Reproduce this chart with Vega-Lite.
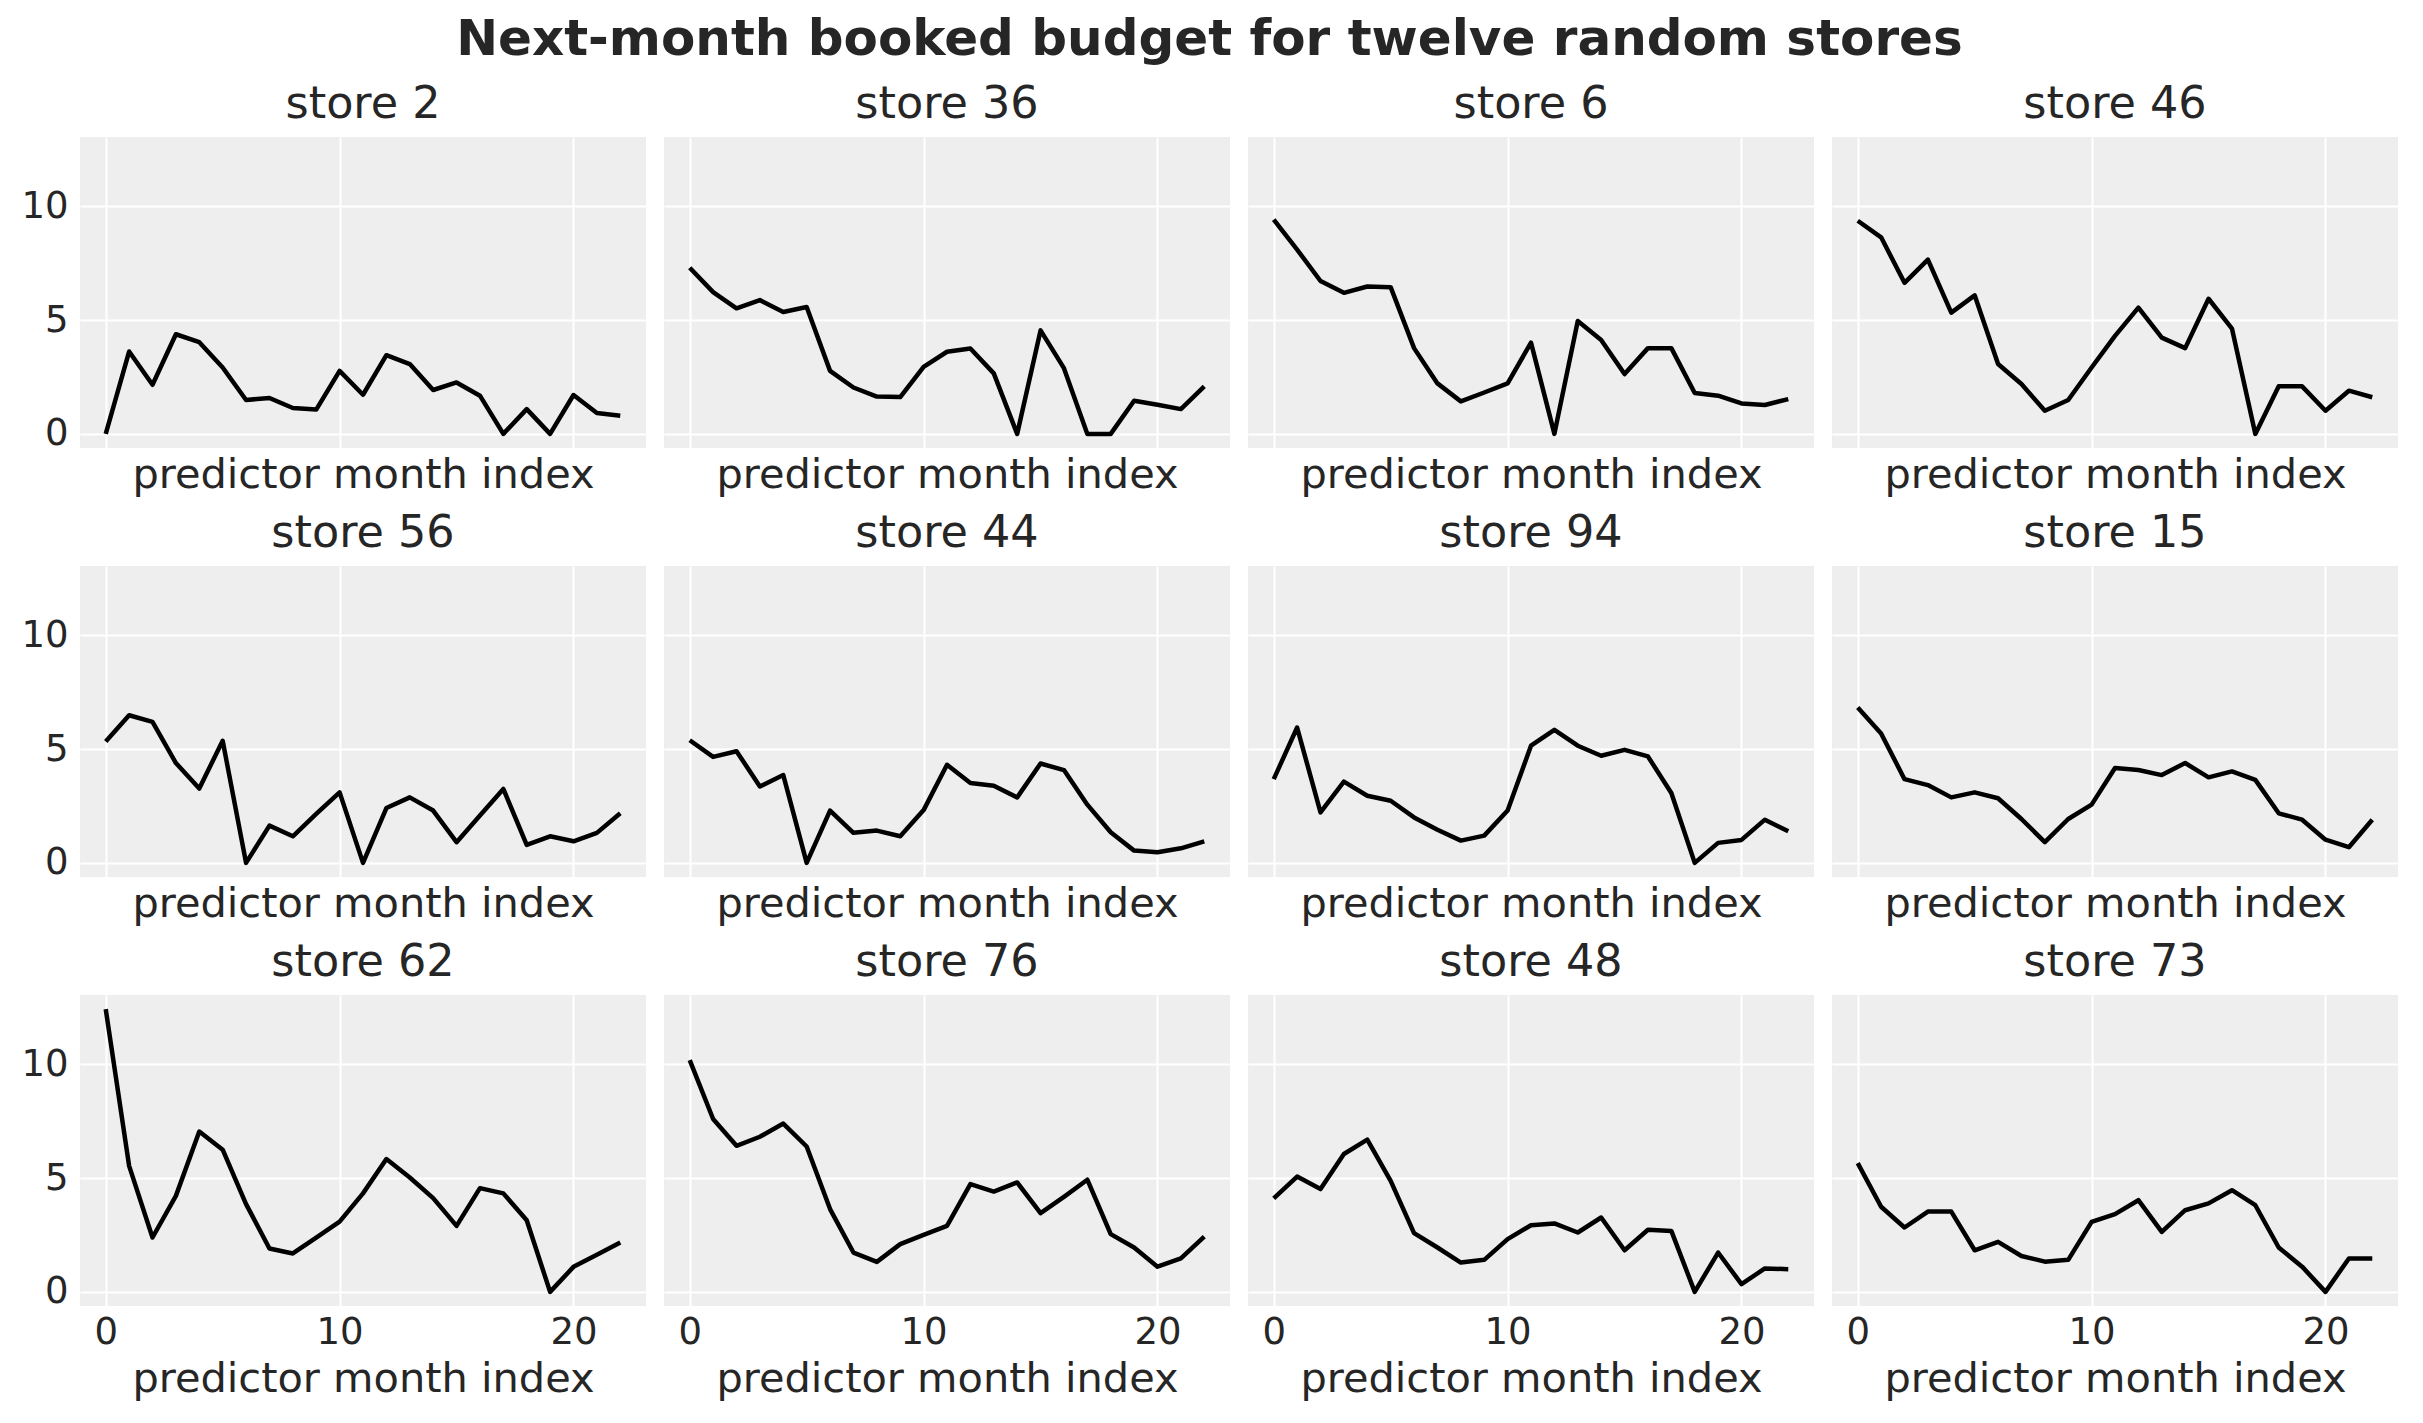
{
  "$schema": "https://vega.github.io/schema/vega-lite/v6.json",
  "padding": {"left": 20, "top": 14, "right": 10, "bottom": 10},
  "background": "white",
  "title": {"text": "Next-month booked budget for twelve random stores", "fontSize": 50, "fontWeight": "bold", "anchor": "middle", "color": "#262626", "offset": 17},
  "data": {"values": [
{"store":"store 2","row":1,"month":0,"budget":0},{"store":"store 2","row":1,"month":1,"budget":3.62},{"store":"store 2","row":1,"month":2,"budget":2.16},{"store":"store 2","row":1,"month":3,"budget":4.38},{"store":"store 2","row":1,"month":4,"budget":4.03},{"store":"store 2","row":1,"month":5,"budget":2.92},{"store":"store 2","row":1,"month":6,"budget":1.49},{"store":"store 2","row":1,"month":7,"budget":1.58},{"store":"store 2","row":1,"month":8,"budget":1.14},{"store":"store 2","row":1,"month":9,"budget":1.07},{"store":"store 2","row":1,"month":10,"budget":2.77},{"store":"store 2","row":1,"month":11,"budget":1.72},{"store":"store 2","row":1,"month":12,"budget":3.46},{"store":"store 2","row":1,"month":13,"budget":3.07},{"store":"store 2","row":1,"month":14,"budget":1.93},{"store":"store 2","row":1,"month":15,"budget":2.26},{"store":"store 2","row":1,"month":16,"budget":1.68},{"store":"store 2","row":1,"month":17,"budget":0},{"store":"store 2","row":1,"month":18,"budget":1.09},{"store":"store 2","row":1,"month":19,"budget":0},{"store":"store 2","row":1,"month":20,"budget":1.71},{"store":"store 2","row":1,"month":21,"budget":0.92},{"store":"store 2","row":1,"month":22,"budget":0.80},
{"store":"store 36","row":1,"month":0,"budget":7.30},{"store":"store 36","row":1,"month":1,"budget":6.23},{"store":"store 36","row":1,"month":2,"budget":5.52},{"store":"store 36","row":1,"month":3,"budget":5.88},{"store":"store 36","row":1,"month":4,"budget":5.36},{"store":"store 36","row":1,"month":5,"budget":5.58},{"store":"store 36","row":1,"month":6,"budget":2.77},{"store":"store 36","row":1,"month":7,"budget":2.04},{"store":"store 36","row":1,"month":8,"budget":1.64},{"store":"store 36","row":1,"month":9,"budget":1.62},{"store":"store 36","row":1,"month":10,"budget":2.95},{"store":"store 36","row":1,"month":11,"budget":3.61},{"store":"store 36","row":1,"month":12,"budget":3.75},{"store":"store 36","row":1,"month":13,"budget":2.66},{"store":"store 36","row":1,"month":14,"budget":0},{"store":"store 36","row":1,"month":15,"budget":4.55},{"store":"store 36","row":1,"month":16,"budget":2.89},{"store":"store 36","row":1,"month":17,"budget":0},{"store":"store 36","row":1,"month":18,"budget":0},{"store":"store 36","row":1,"month":19,"budget":1.46},{"store":"store 36","row":1,"month":20,"budget":1.28},{"store":"store 36","row":1,"month":21,"budget":1.09},{"store":"store 36","row":1,"month":22,"budget":2.09},
{"store":"store 6","row":1,"month":0,"budget":9.42},{"store":"store 6","row":1,"month":1,"budget":8.10},{"store":"store 6","row":1,"month":2,"budget":6.72},{"store":"store 6","row":1,"month":3,"budget":6.20},{"store":"store 6","row":1,"month":4,"budget":6.48},{"store":"store 6","row":1,"month":5,"budget":6.45},{"store":"store 6","row":1,"month":6,"budget":3.77},{"store":"store 6","row":1,"month":7,"budget":2.22},{"store":"store 6","row":1,"month":8,"budget":1.43},{"store":"store 6","row":1,"month":9,"budget":1.82},{"store":"store 6","row":1,"month":10,"budget":2.22},{"store":"store 6","row":1,"month":11,"budget":4.01},{"store":"store 6","row":1,"month":12,"budget":0},{"store":"store 6","row":1,"month":13,"budget":4.96},{"store":"store 6","row":1,"month":14,"budget":4.13},{"store":"store 6","row":1,"month":15,"budget":2.63},{"store":"store 6","row":1,"month":16,"budget":3.77},{"store":"store 6","row":1,"month":17,"budget":3.77},{"store":"store 6","row":1,"month":18,"budget":1.80},{"store":"store 6","row":1,"month":19,"budget":1.68},{"store":"store 6","row":1,"month":20,"budget":1.34},{"store":"store 6","row":1,"month":21,"budget":1.27},{"store":"store 6","row":1,"month":22,"budget":1.53},
{"store":"store 46","row":1,"month":0,"budget":9.37},{"store":"store 46","row":1,"month":1,"budget":8.64},{"store":"store 46","row":1,"month":2,"budget":6.64},{"store":"store 46","row":1,"month":3,"budget":7.66},{"store":"store 46","row":1,"month":4,"budget":5.33},{"store":"store 46","row":1,"month":5,"budget":6.09},{"store":"store 46","row":1,"month":6,"budget":3.07},{"store":"store 46","row":1,"month":7,"budget":2.19},{"store":"store 46","row":1,"month":8,"budget":1.02},{"store":"store 46","row":1,"month":9,"budget":1.49},{"store":"store 46","row":1,"month":10,"budget":2.92},{"store":"store 46","row":1,"month":11,"budget":4.31},{"store":"store 46","row":1,"month":12,"budget":5.55},{"store":"store 46","row":1,"month":13,"budget":4.23},{"store":"store 46","row":1,"month":14,"budget":3.77},{"store":"store 46","row":1,"month":15,"budget":5.94},{"store":"store 46","row":1,"month":16,"budget":4.63},{"store":"store 46","row":1,"month":17,"budget":0},{"store":"store 46","row":1,"month":18,"budget":2.09},{"store":"store 46","row":1,"month":19,"budget":2.09},{"store":"store 46","row":1,"month":20,"budget":1.02},{"store":"store 46","row":1,"month":21,"budget":1.90},{"store":"store 46","row":1,"month":22,"budget":1.61},
{"store":"store 56","row":2,"month":0,"budget":5.34},{"store":"store 56","row":2,"month":1,"budget":6.49},{"store":"store 56","row":2,"month":2,"budget":6.20},{"store":"store 56","row":2,"month":3,"budget":4.39},{"store":"store 56","row":2,"month":4,"budget":3.27},{"store":"store 56","row":2,"month":5,"budget":5.37},{"store":"store 56","row":2,"month":6,"budget":0},{"store":"store 56","row":2,"month":7,"budget":1.64},{"store":"store 56","row":2,"month":8,"budget":1.17},{"store":"store 56","row":2,"month":9,"budget":2.15},{"store":"store 56","row":2,"month":10,"budget":3.10},{"store":"store 56","row":2,"month":11,"budget":0},{"store":"store 56","row":2,"month":12,"budget":2.41},{"store":"store 56","row":2,"month":13,"budget":2.88},{"store":"store 56","row":2,"month":14,"budget":2.30},{"store":"store 56","row":2,"month":15,"budget":0.91},{"store":"store 56","row":2,"month":16,"budget":2.08},{"store":"store 56","row":2,"month":17,"budget":3.25},{"store":"store 56","row":2,"month":18,"budget":0.79},{"store":"store 56","row":2,"month":19,"budget":1.17},{"store":"store 56","row":2,"month":20,"budget":0.95},{"store":"store 56","row":2,"month":21,"budget":1.32},{"store":"store 56","row":2,"month":22,"budget":2.18},
{"store":"store 44","row":2,"month":0,"budget":5.39},{"store":"store 44","row":2,"month":1,"budget":4.66},{"store":"store 44","row":2,"month":2,"budget":4.91},{"store":"store 44","row":2,"month":3,"budget":3.36},{"store":"store 44","row":2,"month":4,"budget":3.86},{"store":"store 44","row":2,"month":5,"budget":0},{"store":"store 44","row":2,"month":6,"budget":2.30},{"store":"store 44","row":2,"month":7,"budget":1.32},{"store":"store 44","row":2,"month":8,"budget":1.42},{"store":"store 44","row":2,"month":9,"budget":1.17},{"store":"store 44","row":2,"month":10,"budget":2.32},{"store":"store 44","row":2,"month":11,"budget":4.31},{"store":"store 44","row":2,"month":12,"budget":3.51},{"store":"store 44","row":2,"month":13,"budget":3.39},{"store":"store 44","row":2,"month":14,"budget":2.88},{"store":"store 44","row":2,"month":15,"budget":4.37},{"store":"store 44","row":2,"month":16,"budget":4.08},{"store":"store 44","row":2,"month":17,"budget":2.56},{"store":"store 44","row":2,"month":18,"budget":1.35},{"store":"store 44","row":2,"month":19,"budget":0.54},{"store":"store 44","row":2,"month":20,"budget":0.47},{"store":"store 44","row":2,"month":21,"budget":0.64},{"store":"store 44","row":2,"month":22,"budget":0.95},
{"store":"store 94","row":2,"month":0,"budget":3.68},{"store":"store 94","row":2,"month":1,"budget":5.95},{"store":"store 94","row":2,"month":2,"budget":2.22},{"store":"store 94","row":2,"month":3,"budget":3.57},{"store":"store 94","row":2,"month":4,"budget":2.95},{"store":"store 94","row":2,"month":5,"budget":2.73},{"store":"store 94","row":2,"month":6,"budget":2.00},{"store":"store 94","row":2,"month":7,"budget":1.46},{"store":"store 94","row":2,"month":8,"budget":0.98},{"store":"store 94","row":2,"month":9,"budget":1.20},{"store":"store 94","row":2,"month":10,"budget":2.30},{"store":"store 94","row":2,"month":11,"budget":5.15},{"store":"store 94","row":2,"month":12,"budget":5.85},{"store":"store 94","row":2,"month":13,"budget":5.15},{"store":"store 94","row":2,"month":14,"budget":4.71},{"store":"store 94","row":2,"month":15,"budget":4.97},{"store":"store 94","row":2,"month":16,"budget":4.68},{"store":"store 94","row":2,"month":17,"budget":3.07},{"store":"store 94","row":2,"month":18,"budget":0},{"store":"store 94","row":2,"month":19,"budget":0.88},{"store":"store 94","row":2,"month":20,"budget":1.01},{"store":"store 94","row":2,"month":21,"budget":1.90},{"store":"store 94","row":2,"month":22,"budget":1.39},
{"store":"store 15","row":2,"month":0,"budget":6.83},{"store":"store 15","row":2,"month":1,"budget":5.69},{"store":"store 15","row":2,"month":2,"budget":3.68},{"store":"store 15","row":2,"month":3,"budget":3.42},{"store":"store 15","row":2,"month":4,"budget":2.88},{"store":"store 15","row":2,"month":5,"budget":3.10},{"store":"store 15","row":2,"month":6,"budget":2.84},{"store":"store 15","row":2,"month":7,"budget":1.93},{"store":"store 15","row":2,"month":8,"budget":0.91},{"store":"store 15","row":2,"month":9,"budget":1.93},{"store":"store 15","row":2,"month":10,"budget":2.56},{"store":"store 15","row":2,"month":11,"budget":4.17},{"store":"store 15","row":2,"month":12,"budget":4.08},{"store":"store 15","row":2,"month":13,"budget":3.86},{"store":"store 15","row":2,"month":14,"budget":4.39},{"store":"store 15","row":2,"month":15,"budget":3.76},{"store":"store 15","row":2,"month":16,"budget":4.02},{"store":"store 15","row":2,"month":17,"budget":3.65},{"store":"store 15","row":2,"month":18,"budget":2.18},{"store":"store 15","row":2,"month":19,"budget":1.90},{"store":"store 15","row":2,"month":20,"budget":1.02},{"store":"store 15","row":2,"month":21,"budget":0.69},{"store":"store 15","row":2,"month":22,"budget":1.90},
{"store":"store 62","row":3,"month":0,"budget":12.43},{"store":"store 62","row":3,"month":1,"budget":5.54},{"store":"store 62","row":3,"month":2,"budget":2.39},{"store":"store 62","row":3,"month":3,"budget":4.22},{"store":"store 62","row":3,"month":4,"budget":7.05},{"store":"store 62","row":3,"month":5,"budget":6.25},{"store":"store 62","row":3,"month":6,"budget":3.86},{"store":"store 62","row":3,"month":7,"budget":1.91},{"store":"store 62","row":3,"month":8,"budget":1.69},{"store":"store 62","row":3,"month":9,"budget":2.39},{"store":"store 62","row":3,"month":10,"budget":3.09},{"store":"store 62","row":3,"month":11,"budget":4.33},{"store":"store 62","row":3,"month":12,"budget":5.84},{"store":"store 62","row":3,"month":13,"budget":5.03},{"store":"store 62","row":3,"month":14,"budget":4.12},{"store":"store 62","row":3,"month":15,"budget":2.90},{"store":"store 62","row":3,"month":16,"budget":4.56},{"store":"store 62","row":3,"month":17,"budget":4.33},{"store":"store 62","row":3,"month":18,"budget":3.15},{"store":"store 62","row":3,"month":19,"budget":0},{"store":"store 62","row":3,"month":20,"budget":1.10},{"store":"store 62","row":3,"month":21,"budget":1.63},{"store":"store 62","row":3,"month":22,"budget":2.17},
{"store":"store 76","row":3,"month":0,"budget":10.19},{"store":"store 76","row":3,"month":1,"budget":7.60},{"store":"store 76","row":3,"month":2,"budget":6.42},{"store":"store 76","row":3,"month":3,"budget":6.82},{"store":"store 76","row":3,"month":4,"budget":7.40},{"store":"store 76","row":3,"month":5,"budget":6.39},{"store":"store 76","row":3,"month":6,"budget":3.64},{"store":"store 76","row":3,"month":7,"budget":1.73},{"store":"store 76","row":3,"month":8,"budget":1.32},{"store":"store 76","row":3,"month":9,"budget":2.10},{"store":"store 76","row":3,"month":10,"budget":2.51},{"store":"store 76","row":3,"month":11,"budget":2.90},{"store":"store 76","row":3,"month":12,"budget":4.74},{"store":"store 76","row":3,"month":13,"budget":4.41},{"store":"store 76","row":3,"month":14,"budget":4.81},{"store":"store 76","row":3,"month":15,"budget":3.46},{"store":"store 76","row":3,"month":16,"budget":4.18},{"store":"store 76","row":3,"month":17,"budget":4.93},{"store":"store 76","row":3,"month":18,"budget":2.54},{"store":"store 76","row":3,"month":19,"budget":1.95},{"store":"store 76","row":3,"month":20,"budget":1.11},{"store":"store 76","row":3,"month":21,"budget":1.47},{"store":"store 76","row":3,"month":22,"budget":2.43},
{"store":"store 48","row":3,"month":0,"budget":4.11},{"store":"store 48","row":3,"month":1,"budget":5.07},{"store":"store 48","row":3,"month":2,"budget":4.52},{"store":"store 48","row":3,"month":3,"budget":6.06},{"store":"store 48","row":3,"month":4,"budget":6.69},{"store":"store 48","row":3,"month":5,"budget":4.88},{"store":"store 48","row":3,"month":6,"budget":2.58},{"store":"store 48","row":3,"month":7,"budget":1.95},{"store":"store 48","row":3,"month":8,"budget":1.29},{"store":"store 48","row":3,"month":9,"budget":1.41},{"store":"store 48","row":3,"month":10,"budget":2.32},{"store":"store 48","row":3,"month":11,"budget":2.93},{"store":"store 48","row":3,"month":12,"budget":3.01},{"store":"store 48","row":3,"month":13,"budget":2.61},{"store":"store 48","row":3,"month":14,"budget":3.27},{"store":"store 48","row":3,"month":15,"budget":1.83},{"store":"store 48","row":3,"month":16,"budget":2.73},{"store":"store 48","row":3,"month":17,"budget":2.68},{"store":"store 48","row":3,"month":18,"budget":0},{"store":"store 48","row":3,"month":19,"budget":1.73},{"store":"store 48","row":3,"month":20,"budget":0.34},{"store":"store 48","row":3,"month":21,"budget":1.03},{"store":"store 48","row":3,"month":22,"budget":1.00},
{"store":"store 73","row":3,"month":0,"budget":5.66},{"store":"store 73","row":3,"month":1,"budget":3.74},{"store":"store 73","row":3,"month":2,"budget":2.83},{"store":"store 73","row":3,"month":3,"budget":3.53},{"store":"store 73","row":3,"month":4,"budget":3.53},{"store":"store 73","row":3,"month":5,"budget":1.83},{"store":"store 73","row":3,"month":6,"budget":2.20},{"store":"store 73","row":3,"month":7,"budget":1.58},{"store":"store 73","row":3,"month":8,"budget":1.33},{"store":"store 73","row":3,"month":9,"budget":1.41},{"store":"store 73","row":3,"month":10,"budget":3.08},{"store":"store 73","row":3,"month":11,"budget":3.42},{"store":"store 73","row":3,"month":12,"budget":4.03},{"store":"store 73","row":3,"month":13,"budget":2.64},{"store":"store 73","row":3,"month":14,"budget":3.59},{"store":"store 73","row":3,"month":15,"budget":3.89},{"store":"store 73","row":3,"month":16,"budget":4.47},{"store":"store 73","row":3,"month":17,"budget":3.81},{"store":"store 73","row":3,"month":18,"budget":1.95},{"store":"store 73","row":3,"month":19,"budget":1.11},{"store":"store 73","row":3,"month":20,"budget":0},{"store":"store 73","row":3,"month":21,"budget":1.47},{"store":"store 73","row":3,"month":22,"budget":1.47}
  ]},
  "spacing": 14,
  "vconcat": [
    {
      "transform": [{"filter": "datum.row === 1"}],
      "facet": {"column": {"field": "store", "type": "nominal", "title": null, "sort": ["store 2","store 36","store 6","store 46","store 56","store 44","store 94","store 15","store 62","store 76","store 48","store 73"]}},
      "spacing": 18,
      "spec": {
        "width": 566, "height": 311,
        "mark": {"type": "line", "color": "black", "strokeWidth": 4.5, "strokeJoin": "round"},
        "encoding": {
          "x": {"field": "month", "type": "quantitative", "scale": {"domain": [-1.1, 23.1], "nice": false, "zero": false}, "axis": {"values": [0, 10, 20], "labels": false, "title": "predictor month index", "titlePadding": 6}},
          "y": {"field": "budget", "type": "quantitative", "scale": {"domain": [-0.62, 13.05], "nice": false, "zero": false}, "axis": {"values": [0, 5, 10], "title": null}}
        }
      }
    },
    {
      "transform": [{"filter": "datum.row === 2"}],
      "facet": {"column": {"field": "store", "type": "nominal", "title": null, "sort": ["store 2","store 36","store 6","store 46","store 56","store 44","store 94","store 15","store 62","store 76","store 48","store 73"]}},
      "spacing": 18,
      "spec": {
        "width": 566, "height": 311,
        "mark": {"type": "line", "color": "black", "strokeWidth": 4.5, "strokeJoin": "round"},
        "encoding": {
          "x": {"field": "month", "type": "quantitative", "scale": {"domain": [-1.1, 23.1], "nice": false, "zero": false}, "axis": {"values": [0, 10, 20], "labels": false, "title": "predictor month index", "titlePadding": 6}},
          "y": {"field": "budget", "type": "quantitative", "scale": {"domain": [-0.62, 13.05], "nice": false, "zero": false}, "axis": {"values": [0, 5, 10], "title": null}}
        }
      }
    },
    {
      "transform": [{"filter": "datum.row === 3"}],
      "facet": {"column": {"field": "store", "type": "nominal", "title": null, "sort": ["store 2","store 36","store 6","store 46","store 56","store 44","store 94","store 15","store 62","store 76","store 48","store 73"]}},
      "spacing": 18,
      "spec": {
        "width": 566, "height": 311,
        "mark": {"type": "line", "color": "black", "strokeWidth": 4.5, "strokeJoin": "round"},
        "encoding": {
          "x": {"field": "month", "type": "quantitative", "scale": {"domain": [-1.1, 23.1], "nice": false, "zero": false}, "axis": {"values": [0, 10, 20], "title": "predictor month index", "labelPadding": 8, "titlePadding": 8}},
          "y": {"field": "budget", "type": "quantitative", "scale": {"domain": [-0.62, 13.05], "nice": false, "zero": false}, "axis": {"values": [0, 5, 10], "title": null}}
        }
      }
    }
  ],
  "config": {
    "font": "DejaVu Sans",
    "view": {"fill": "#eeeeee", "stroke": null},
    "axis": {"grid": true, "gridColor": "white", "gridWidth": 2, "domain": false, "ticks": false, "tickSize": 0, "labelFontSize": 37, "titleFontSize": 41.5, "labelColor": "#262626", "titleColor": "#262626", "titleFontWeight": "normal", "labelPadding": 12},
    "header": {"labelFontSize": 44.5, "labelColor": "#262626", "labelPadding": 10}
  }
}
